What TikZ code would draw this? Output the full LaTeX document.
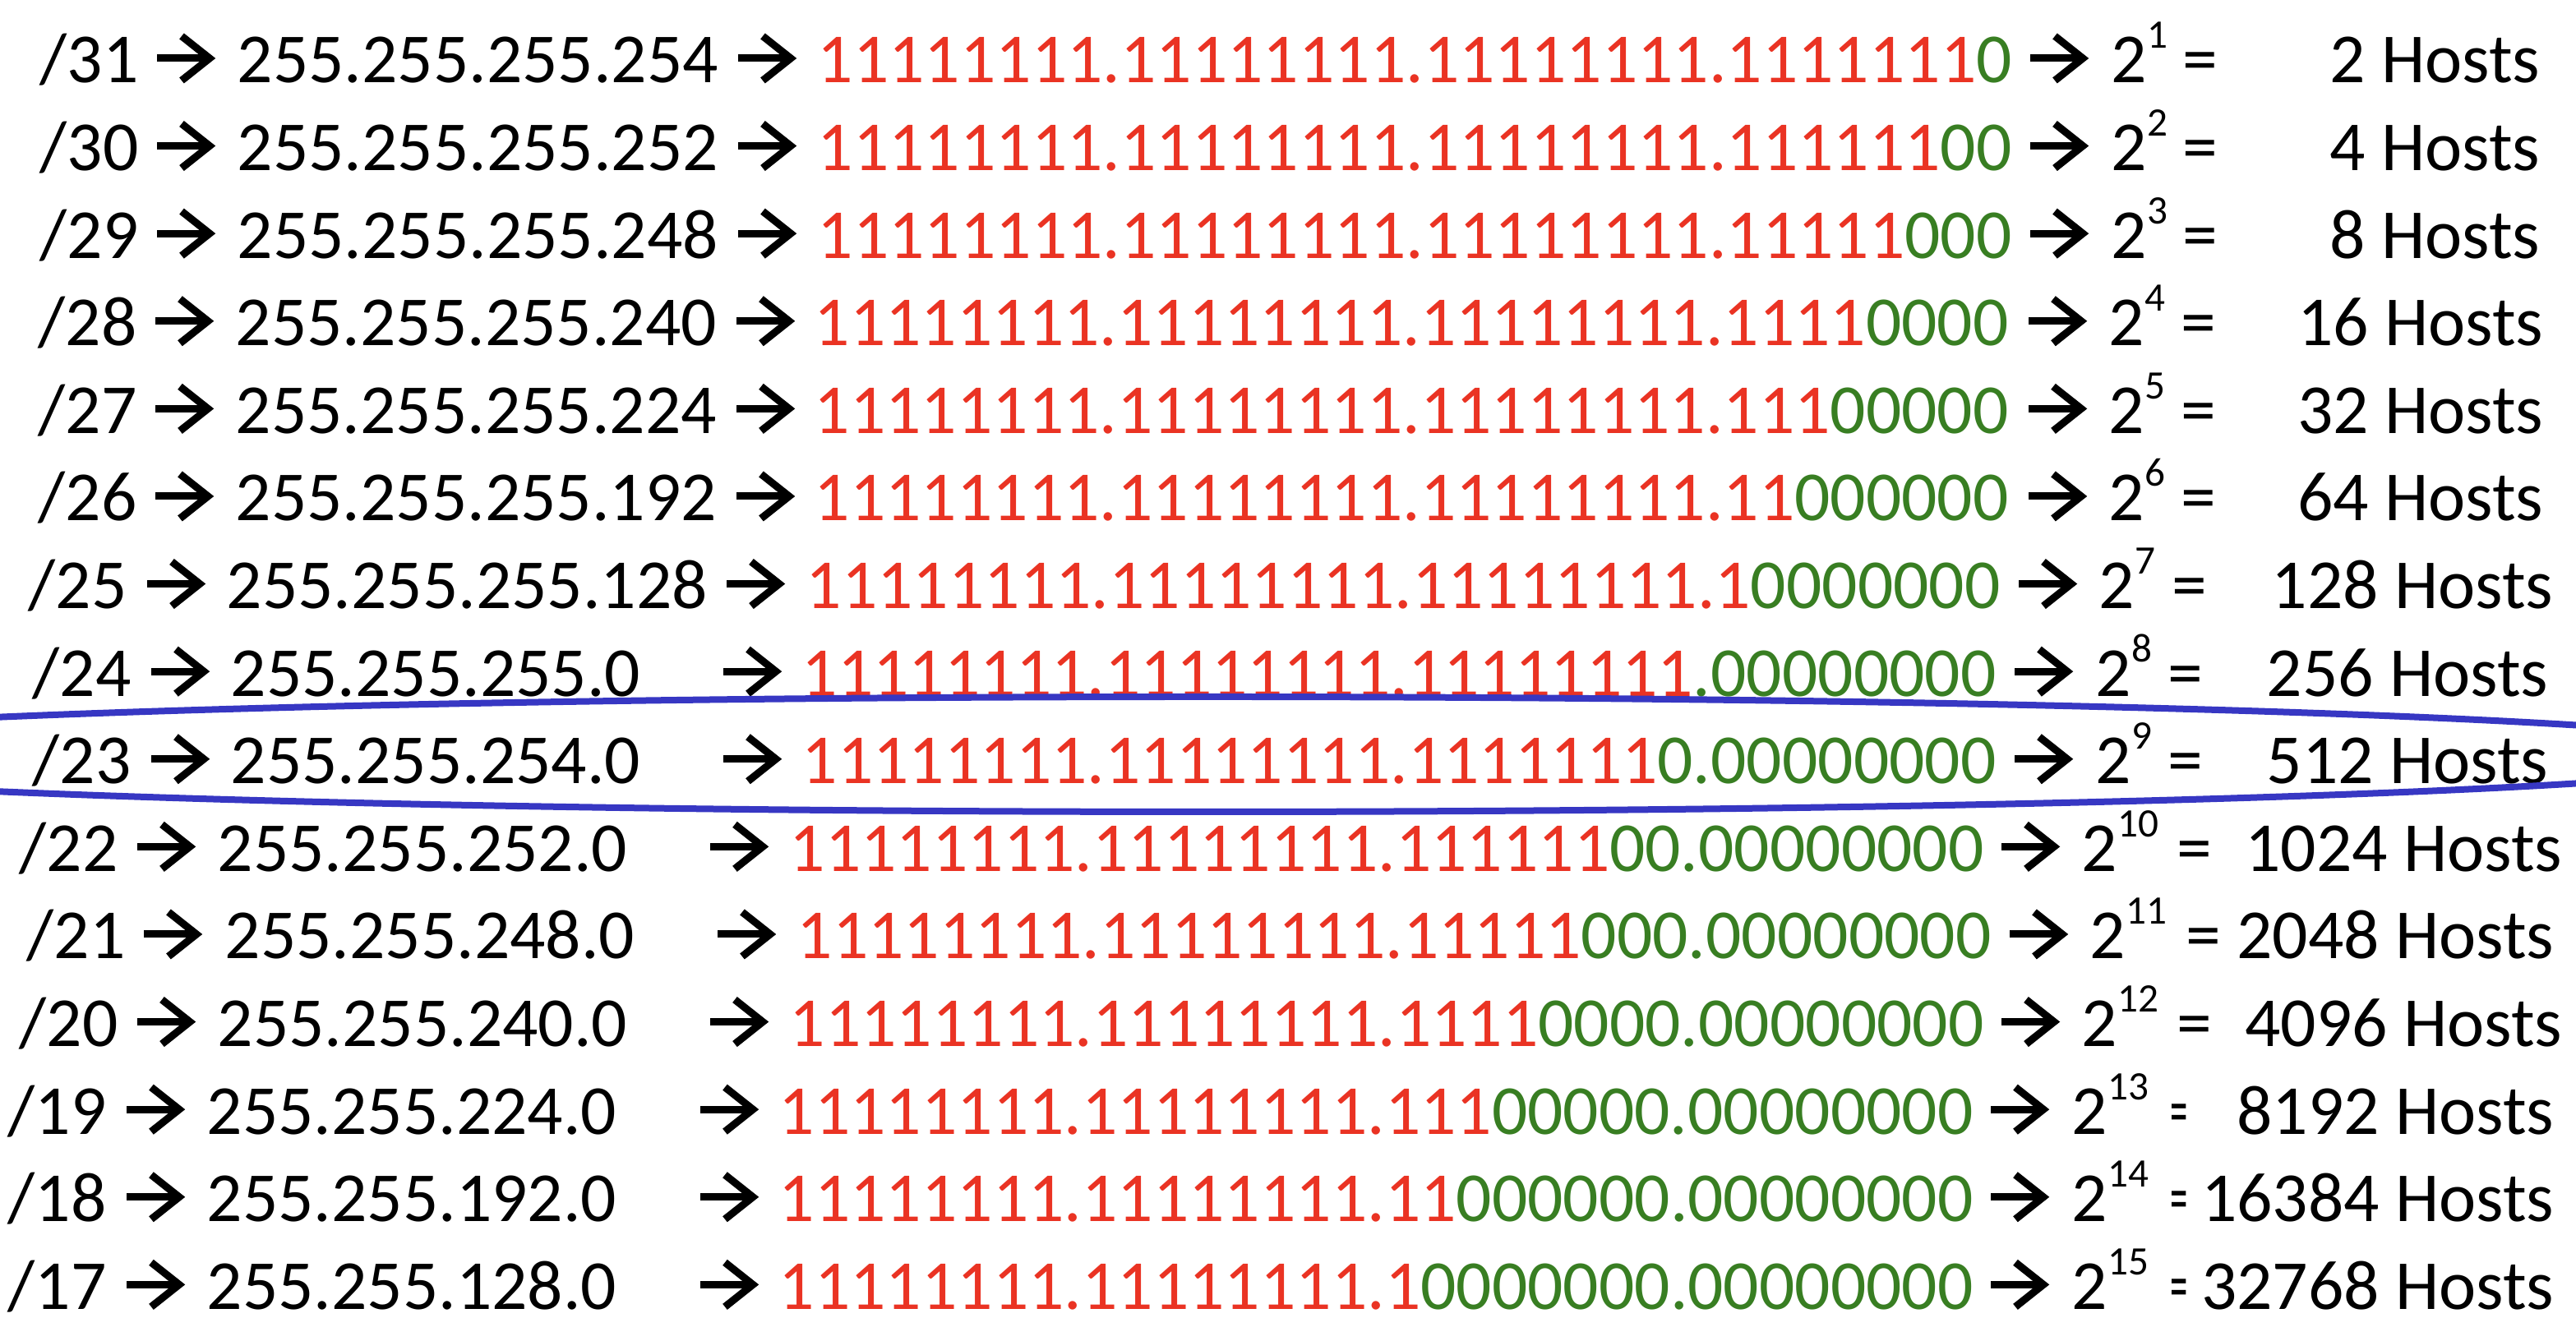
\documentclass[tikz,border=0pt]{standalone}
\usepackage{fontspec}
\setmainfont{Carlito}
\usepackage{graphicx}
\usetikzlibrary{calc}

\definecolor{onered}{RGB}{234,51,35}
\definecolor{zerogreen}{RGB}{56,126,34}
\definecolor{ringblue}{RGB}{55,55,195}

\tikzset{
	txt/.style={inner sep=0pt, anchor=base west, font=\fontsize{24.35pt}{29pt}\selectfont},
	hosts/.style={txt, anchor=base east},
	pics/glypharrow/.style={code={
		\draw[line width=0.09cm] (0,0.30) -- (0.63,0.30);
		\draw[line width=0.09cm, miter limit=10] (0.30,0.57) -- (0.64,0.30) -- (0.30,0.03);
	}}
}
\newcommand{\supexp}[1]{\raisebox{0.42cm}{\fontsize{14pt}{14pt}\selectfont #1}}

\begin{document}
\begin{tikzpicture}
\useasboundingbox (0,0) rectangle (31.34,16.32);
% column positions of the seven row layouts
\def\xpre{{0.48,0.46,0.34,0.39,0.23,0.32,0.09}}
\def\xone{{1.91,1.89,1.79,1.84,1.67,1.75,1.54}}
\def\xmask{{2.88,2.86,2.75,2.80,2.64,2.73,2.51}}
\def\xtwo{{8.98,8.96,8.84,8.80,8.64,8.73,8.52}}
\def\xbin{{9.94,9.90,9.80,9.75,9.60,9.69,9.47}}
\def\xthree{{24.70,24.68,24.56,24.51,24.35,24.45,24.22}}
\def\xpow{{25.68,25.65,25.53,25.49,25.32,25.42,25.20}}
\def\xeq{{26.55,26.53,26.42,26.37,26.48,26.59,26.40}}
\def\xhosts{{30.91,30.95,31.07,31.01,31.18,31.08,31.08}}

\foreach \p/\mask/\red/\green/\n/\h/\l [count=\i from 0] in {
	31/255.255.255.254/11111111.11111111.11111111.1111111/0/1/2/0,
	30/255.255.255.252/11111111.11111111.11111111.111111/00/2/4/0,
	29/255.255.255.248/11111111.11111111.11111111.11111/000/3/8/0,
	28/255.255.255.240/11111111.11111111.11111111.1111/0000/4/16/1,
	27/255.255.255.224/11111111.11111111.11111111.111/00000/5/32/1,
	26/255.255.255.192/11111111.11111111.11111111.11/000000/6/64/1,
	25/255.255.255.128/11111111.11111111.11111111.1/0000000/7/128/2,
	24/255.255.255.0/11111111.11111111.11111111/.00000000/8/256/3,
	23/255.255.254.0/11111111.11111111.1111111/0.00000000/9/512/3,
	22/255.255.252.0/11111111.11111111.111111/00.00000000/10/1024/4,
	21/255.255.248.0/11111111.11111111.11111/000.00000000/11/2048/5,
	20/255.255.240.0/11111111.11111111.1111/0000.00000000/12/4096/4,
	19/255.255.224.0/11111111.11111111.111/00000.00000000/13/8192/6,
	18/255.255.192.0/11111111.11111111.11/000000.00000000/14/16384/6,
	17/255.255.128.0/11111111.11111111.1/0000000.00000000/15/32768/6}
{
	\pgfmathsetmacro\y{15.31-1.066*\i}
	\pgfmathsetmacro\xp{\xpre[\l]}
	\pgfmathsetmacro\xa{\xone[\l]}
	\pgfmathsetmacro\xm{\xmask[\l]}
	\pgfmathsetmacro\xb{\xtwo[\l]}
	\pgfmathsetmacro\xc{\xbin[\l]}
	\pgfmathsetmacro\xd{\xthree[\l]}
	\pgfmathsetmacro\xe{\xpow[\l]}
	\pgfmathsetmacro\xf{\xeq[\l]}
	\pgfmathsetmacro\xg{\xhosts[\l]}
	\node[txt] (pre-\p) at (\xp,\y) {/\p};
	\pic at (\xa,\y) {glypharrow};
	\node[txt] (mask-\p) at (\xm,\y) {\mask};
	\pic at (\xb,\y) {glypharrow};
	\node[txt] (bin-\p) at (\xc,\y) {\textcolor{onered}{\red}\textcolor{zerogreen}{\green}};
	\pic at (\xd,\y) {glypharrow};
	\node[txt] (pow-\p) at (\xe,\y) {2\supexp{\n}};
	\node[txt] (eq-\p) at (\xf,\y) {\ifnum\l=6 \scalebox{0.5}[1]{=}\else =\fi};
	\node[hosts] (hosts-\p) at (\xg,\y) {\h{} Hosts};
}

% ring round the /23 row
\begin{scope}
\clip (0,0) rectangle (31.34,16.32);
\draw[ringblue, line width=0.08cm] (14.70,7.14) ellipse [x radius=19.30, y radius=0.70];
\end{scope}
\end{tikzpicture}
\end{document}
